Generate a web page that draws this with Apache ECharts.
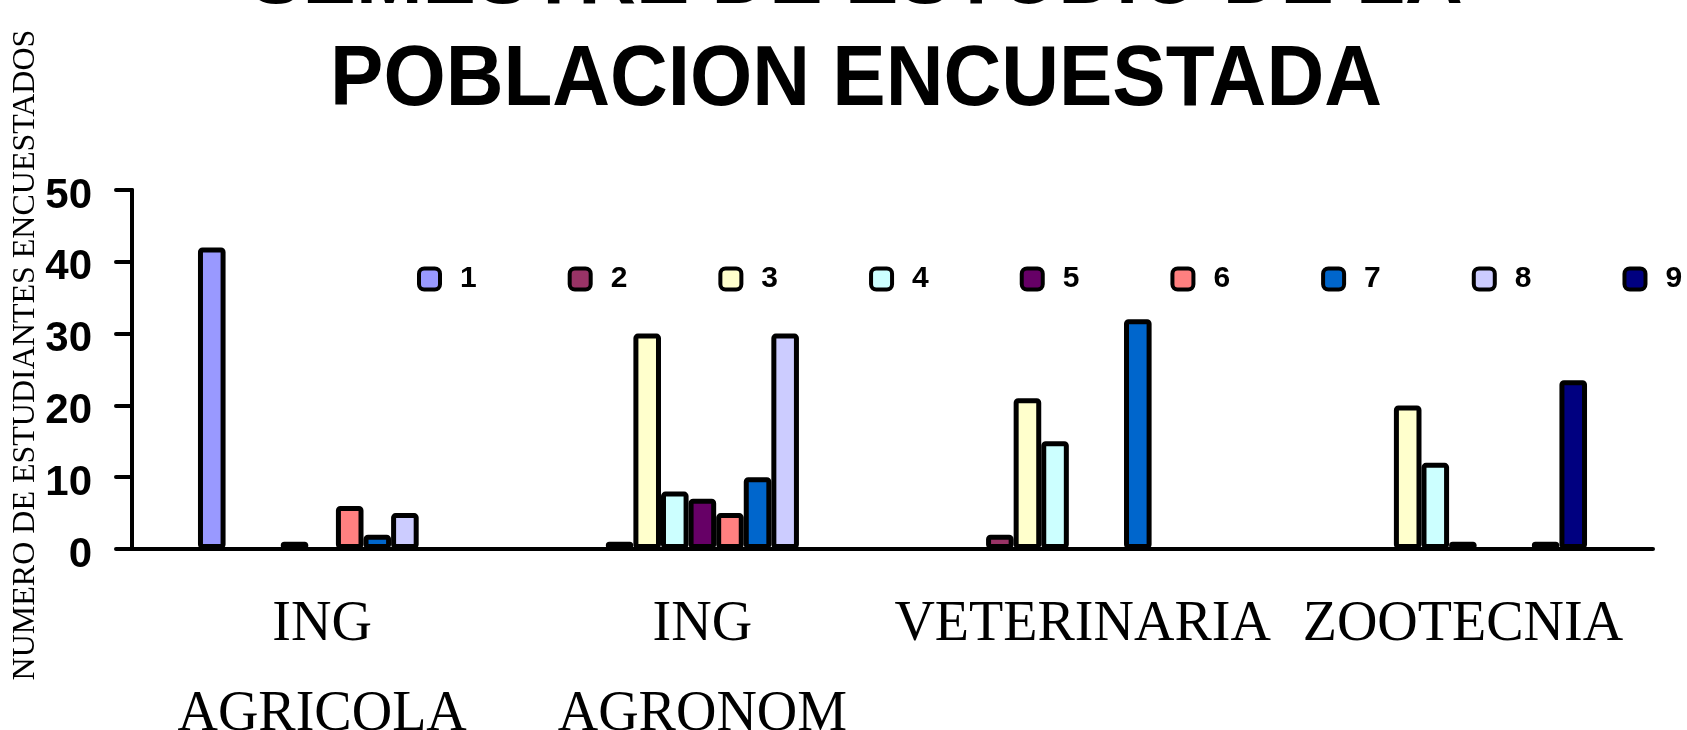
<!DOCTYPE html>
<html>
<head>
<meta charset="utf-8">
<script src="https://cdn.jsdelivr.net/npm/echarts@6/dist/echarts.min.js"></script>
<style>html,body{margin:0;padding:0;background:#fff}#c{width:1687px;height:730px}</style>
</head>
<body>
<div id="c"></div>
<script>
const categories = ['ING\nAGRICOLA', 'ING\nAGRONOM', 'VETERINARIA', 'ZOOTECNIA'];
const seriesNames = ['1', '2', '3', '4', '5', '6', '7', '8', '9'];
const s1 = [42, null, null, null];
const s2 = [null, 1, 2, null];
const s3 = [null, 30, 21, 20];
const s4 = [1, 8, 15, 12];
const s5 = [null, 7, null, 1];
const s6 = [6, 5, null, null];
const s7 = [2, 10, 32, null];
const s8 = [5, 30, null, 1];
const s9 = [null, null, null, 23.5];
const yTicks = [0, 10, 20, 30, 40, 50];
const colors = ['#9999FF', '#993366', '#FFFFCC', '#CCFFFF', '#660066', '#FF8080', '#0066CC', '#CCCCFF', '#000080'];
const titleLines = ['SEMESTRE DE ESTUDIO DE LA', 'POBLACION ENCUESTADA'];
const yName = 'NUMERO DE ESTUDIANTES ENCUESTADOS';

const allData = [s1, s2, s3, s4, s5, s6, s7, s8, s9];
const sans = '"Liberation Sans", Arial, sans-serif';
const serif = '"Liberation Serif", "Times New Roman", serif';

const chart = echarts.init(document.getElementById('c'));
chart.setOption({
  animation: false,
  backgroundColor: '#fff',
  color: colors,
  grid: { left: 132, right: 34, top: 190, bottom: 181, containLabel: false, outerBoundsMode: 'none' },
  legend: {
    left: 417, top: 264, width: 1400, orient: 'horizontal', padding: 0,
    itemWidth: 21, itemHeight: 21, itemGap: 91,
    icon: 'roundRect',
    itemStyle: { borderColor: '#000', borderWidth: 4 },
    textStyle: { fontFamily: sans, fontWeight: 'bold', fontSize: 30, color: '#000', padding: [8, 0, 0, 15] },
    data: seriesNames
  },
  graphic: [
    { type: 'text', x: 856, y: -21, scaleY: 1.07, style: { text: titleLines[0], font: 'bold 80px ' + sans, fill: '#000', textAlign: 'center', textVerticalAlign: 'middle' } },
    { type: 'text', x: 856, y: 81, scaleY: 1.07, style: { text: titleLines[1], font: 'bold 80px ' + sans, fill: '#000', textAlign: 'center', textVerticalAlign: 'middle' } },
    { type: 'text', x: 26, y: 355, rotation: Math.PI / 2, style: { text: yName, font: '32px ' + serif, fill: '#000', textAlign: 'center', textVerticalAlign: 'middle' } }
  ],
  xAxis: [
    {
      type: 'category', data: categories, position: 'bottom',
      axisLine: { lineStyle: { color: '#000', width: 4, cap: 'round' } },
      axisTick: { inside: true, length: 19, lineStyle: { color: '#000', width: 4, cap: 'round' } },
      axisLabel: { color: '#000', fontFamily: serif, fontSize: 56, lineHeight: 90, margin: 31, interval: 0 }
    },
    {
      type: 'category', data: categories, position: 'bottom', offset: 0,
      axisLine: { show: false },
      axisTick: { inside: false, length: 21, lineStyle: { color: '#000', width: 4, cap: 'round' } },
      axisLabel: { show: false }
    }
  ],
  yAxis: {
    type: 'value', min: yTicks[0], max: yTicks[yTicks.length - 1], interval: 10,
    axisLine: { show: true, lineStyle: { color: '#000', width: 4, cap: 'round' } },
    axisTick: { show: true, length: 16, lineStyle: { color: '#000', width: 4, cap: 'round' } },
    splitLine: { show: false },
    axisLabel: { color: '#000', fontFamily: sans, fontWeight: 'bold', fontSize: 42, margin: 40, verticalAlign: 'top', lineHeight: 12 }
  },
  series: allData.map((d, i) => ({
    type: 'bar', name: seriesNames[i], data: d, xAxisIndex: 0,
    barGap: '0%', barCategoryGap: '34.7%',
    itemStyle: { color: colors[i], borderColor: '#000', borderWidth: 5, borderJoin: 'round', borderRadius: 2 }
  }))
});
</script>
</body>
</html>
